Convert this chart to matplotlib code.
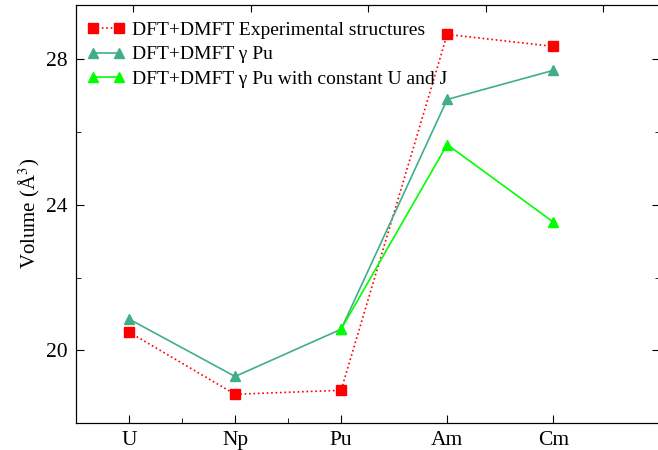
import matplotlib
matplotlib.use("Agg")
import matplotlib.pyplot as plt
from matplotlib.ticker import MultipleLocator

elements = ["U", "Np", "Pu", "Am", "Cm"]
vol_exp = [20.5, 18.79, 18.9, 28.69, 28.36]
vol_gamma = [20.86, 19.28, 20.58, 26.9, 27.7]
gamma_idx = [2, 3, 4]
vol_gamma_const = [20.58, 25.66, 23.53]

plt.rcParams["font.family"] = ["Liberation Serif", "DejaVu Serif"]
plt.rcParams["mathtext.fontset"] = "stix"

fig = plt.figure(figsize=(6.58, 4.5), dpi=100)
ax = fig.add_axes([0.1155, 0.06, 0.888, 0.929])

x = list(range(len(elements)))
ax.plot(x, vol_exp, ls=":", color="#ff0000", marker="s", ms=6.5, lw=1.2,
        label="DFT+DMFT Experimental structures")
ax.plot(x, vol_gamma, ls="-", color="#40ae8c", marker="^", ms=7.5, lw=1.2,
        label="DFT+DMFT γ Pu")
ax.plot(gamma_idx, vol_gamma_const, ls="-", color="#00ff00", marker="^", ms=7.5, lw=1.2,
        label="DFT+DMFT γ Pu with constant U and J")

ax.set_xlim(-0.5, 5.01)
ax.set_ylim(18.0, 29.5)
ax.set_xticks(x)
ax.set_xticklabels(elements)
ax.set_xticks([0.5, 1.5], minor=True)
ax.yaxis.set_major_locator(MultipleLocator(4))
ax.yaxis.set_minor_locator(MultipleLocator(2))
ax.tick_params(which="both", direction="in", right=True, labelsize=15.5, pad=6)
ax.tick_params(which="major", length=6)
ax.tick_params(which="minor", length=3.5)
ax.set_ylabel("Volume (Å$^3$)", fontsize=15, labelpad=3)

# top axis carries its own tick spacing
top = ax.twiny()
top.set_xlim(-0.485, 4.485)
top.set_xticks(range(5))
top.tick_params(direction="in", length=5, labeltop=False)
for a in (ax, top):
    a.spines["right"].set_visible(False)

ax.legend(loc="upper left", bbox_to_anchor=(0.0, 0.988), frameon=False,
          fontsize=14, handlelength=1.9, handletextpad=0.4, labelspacing=0.34,
          borderaxespad=0.3, borderpad=0.3, numpoints=2)

fig.savefig("out.png", dpi=100)
